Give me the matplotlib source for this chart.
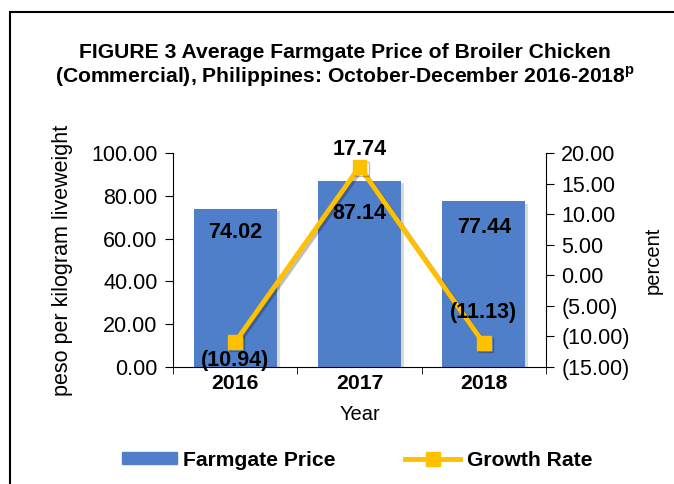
import matplotlib
matplotlib.use("Agg")
import matplotlib.pyplot as plt
import matplotlib.patheffects as pe
from matplotlib import font_manager
from matplotlib.patches import Patch
from matplotlib.lines import Line2D

years = ["2016", "2017", "2018"]
price = [74.02, 87.14, 77.44]
growth = [-10.94, 17.74, -11.13]
left_ticks = [0, 20, 40, 60, 80, 100]
right_ticks = [-15, -10, -5, 0, 5, 10, 15, 20]

names = {f.name for f in font_manager.fontManager.ttflist}
base = "Liberation Sans" if "Liberation Sans" in names else "DejaVu Sans"
narrow = "Liberation Sans Narrow" if "Liberation Sans Narrow" in names else base
plt.rcParams['font.family'] = [base, 'DejaVu Sans']

BLUE = "#4F7FC8"
GOLD = "#FFC000"
FS = 15.5

fig = plt.figure(figsize=(6.74, 4.84), dpi=100)
fig.patches.append(plt.Rectangle((10/674, -0.1), 2.0, (484-12)/484 + 0.1, transform=fig.transFigure,
                                 fill=False, edgecolor="black", linewidth=1.5))

ax = fig.add_axes([173/674, (484-367)/484, (546-173)/674, (367-153)/484])
x = list(range(len(years)))
ax.bar(x, price, width=0.67, color=BLUE, zorder=2,
       path_effects=[pe.SimplePatchShadow(offset=(2, -2), shadow_rgbFace="#9a9a9a", alpha=0.35), pe.Normal()])
ax.set_xlim(-0.5, 2.5)
ax.set_ylim(0, 100)
ax.set_yticks(left_ticks)
ax.set_yticklabels([f"{v:.2f}" for v in left_ticks], fontsize=FS)
ax.set_xticks(x)
ax.set_xticklabels(years, fontsize=15.3, fontweight="bold")
ax.set_xticks([-0.5, 0.5, 1.5, 2.5], minor=True)
ax.tick_params(axis="x", which="major", length=0, pad=5)
ax.tick_params(axis="x", which="minor", length=5, direction="out")
ax.tick_params(axis="y", length=6, direction="out", pad=5)
for s in ["top", "right"]:
    ax.spines[s].set_visible(False)
ax.set_ylabel("peso per kilogram liveweight", fontsize=15.5, labelpad=13)
ax.set_xlabel("Year", fontsize=14.5, labelpad=9)

bar_offsets = [-24, -33, -26]
for xi, v, off in zip(x, price, bar_offsets):
    ax.annotate(f"{v:.2f}", (xi, v), xytext=(0, off * 0.72), textcoords="offset points",
                ha="center", va="center", fontsize=FS, fontweight="bold", zorder=5)

ax2 = ax.twinx()
ax2.set_ylim(-15, 20)
ax2.plot(x, growth, color=GOLD, linewidth=3.5, marker="s", markersize=10, zorder=4,
         path_effects=[pe.SimpleLineShadow(offset=(1.5, -1.5), alpha=0.25), pe.Normal()])
ax2.set_yticks(right_ticks)
ax2.set_yticklabels([f"({abs(v):.2f})" if v < 0 else f"{v:.2f}" for v in right_ticks], fontsize=FS)
ax2.tick_params(axis="y", length=6, direction="out", pad=5)
for s in ["top", "left", "bottom"]:
    ax2.spines[s].set_visible(False)
ax2.set_ylabel("percent", fontsize=14.5, labelpad=10)

g_offsets = [-18, 17, 31]
for xi, v, off in zip(x, growth, g_offsets):
    lab = f"({abs(v):.2f})" if v < 0 else f"{v:.2f}"
    ax2.annotate(lab, (xi, v), xytext=(0, off * 0.72), textcoords="offset points",
                 ha="center", va="center", fontsize=FS, fontweight="bold", zorder=6)

fig.text(345/674, 1 - 66/484,
         "FIGURE 3 Average Farmgate Price of Broiler Chicken\n(Commercial), Philippines: October-December 2016-2018$^\\mathregular{p}$",
         ha="center", va="center", fontsize=15.2, fontweight="bold", family=[narrow, 'DejaVu Sans'],
         linespacing=1.15)

handles = [Patch(facecolor=BLUE, edgecolor=BLUE),
           Line2D([0], [0], color=GOLD, lw=3.5, marker="s", markersize=10)]
fig.legend(handles, ["Farmgate Price", "Growth Rate"], loc="center", bbox_to_anchor=(357/674, 1 - 460/484),
           ncol=2, frameon=False, prop={"weight": "bold", "size": 15.2}, handlelength=2.6,
           handleheight=0.55, columnspacing=3.3, handletextpad=0.3)

fig.savefig("out.png", dpi=100)
